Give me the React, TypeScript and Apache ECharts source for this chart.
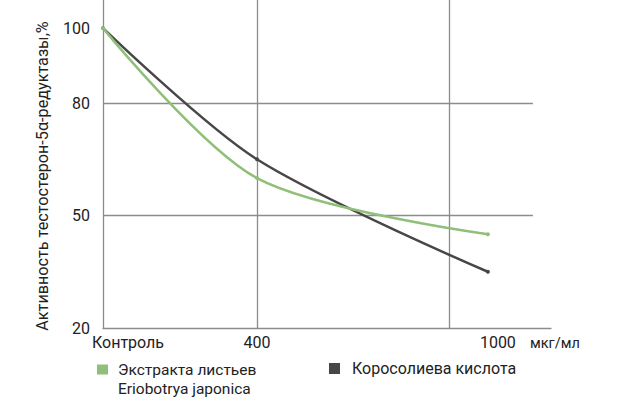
import React, { useEffect, useRef } from "react";
import * as echarts from "echarts";

const xTicks = [0, 400, 1000];
const xTickLabels = ["Контроль", "400", "1000"];
const yTicks = [20, 50, 80, 100];
const seriesNames = ["Экстракта листьев Eriobotrya japonica", "Коросолиева кислота"];
const greenData = [
  [0, 100],
  [400, 60],
  [1000, 45],
];
const blackData = [
  [0, 100],
  [400, 65],
  [1000, 35],
];
const vGrid = [400, 900];
const hGrid = [80, 50];
const hGridEnd = 1117;
const xMax = 1164;
const yMin = 20;
const yMax = 107.5;

const GRID = "#8c8c8c";
const GREEN = "#8fbf78";
const DARK = "#474747";
const TEXT = "#222222";
const FONT = "Roboto, 'Noto Sans', sans-serif";

export default function App() {
  const ref = useRef<HTMLDivElement>(null);
  useEffect(() => {
    if (!ref.current) return;
    const chart = echarts.init(ref.current, null, { renderer: "svg" });
    chart.setOption({
      animation: false,
      textStyle: { fontFamily: FONT },
      grid: { left: 103, right: 84, top: 0, bottom: 77, containLabel: false },
      xAxis: {
        type: "value",
        min: 0,
        max: xMax,
        name: "мкг/мл",
        nameLocation: "end",
        nameGap: -21,
        nameTextStyle: {
          fontSize: 14.5,
          color: TEXT,
          fontFamily: FONT,
          align: "left",
          verticalAlign: "top",
          padding: [8, 0, 0, 0],
        },
        axisLine: { show: true, lineStyle: { color: GRID, width: 1.3 } },
        axisTick: { show: false },
        splitLine: { show: false },
        axisLabel: {
          customValues: xTicks,
          margin: 6,
          fontSize: 16,
          color: TEXT,
          fontFamily: FONT,
          formatter: (v: number) => {
            const i = xTicks.indexOf(v);
            const t = i >= 0 ? xTickLabels[i] : String(v);
            if (i === 0) return "{a|" + t + "}";
            if (i === 2) return "{b|" + t + "}";
            return t;
          },
          rich: {
            a: { fontSize: 16, color: TEXT, fontFamily: FONT, padding: [0, 0, 0, 50] },
            b: { fontSize: 16, color: TEXT, fontFamily: FONT, padding: [0, 0, 0, 20] },
          },
        },
      },
      yAxis: {
        type: "value",
        min: yMin,
        max: yMax,
        name: "Активность тестостерон-5α-редуктазы,%",
        nameLocation: "middle",
        nameRotate: 90,
        nameGap: 53,
        nameTextStyle: {
          fontSize: 16.2,
          color: TEXT,
          fontFamily: FONT,
          padding: [0, 24, 0, 0],
        },
        axisLine: { show: true, lineStyle: { color: GRID, width: 1.3 } },
        axisTick: { show: false },
        splitLine: { show: false },
        axisLabel: {
          customValues: yTicks,
          margin: 13,
          fontSize: 16,
          color: TEXT,
          fontFamily: FONT,
        },
      },
      legend: [
        {
          data: [seriesNames[0]],
          left: 97,
          top: 341,
          padding: 0,
          icon: "rect",
          itemWidth: 11,
          itemHeight: 10,
          formatter: () => "\nЭкстракта листьев\nEriobotrya japonica",
          textStyle: {
            fontSize: 15.5,
            lineHeight: 19,
            color: TEXT,
            fontFamily: FONT,
            padding: [0, 0, 0, 5],
          },
        },
        {
          data: [seriesNames[1]],
          left: 329,
          top: 359,
          padding: 0,
          icon: "rect",
          itemWidth: 11,
          itemHeight: 11,
          textStyle: {
            fontSize: 16,
            lineHeight: 19,
            color: TEXT,
            fontFamily: FONT,
            padding: [0, 0, 0, 7],
          },
        },
      ],
      series: [
        {
          type: "line",
          name: "grid",
          data: [],
          silent: true,
          markLine: {
            silent: true,
            z: 1,
            symbol: "none",
            label: { show: false },
            lineStyle: { color: GRID, width: 1.3, type: "solid" },
            emphasis: { disabled: true },
            data: [
              ...vGrid.map((v) => ({ xAxis: v })),
              ...hGrid.map((v) => [{ coord: [0, v] }, { coord: [hGridEnd, v] }]),
            ],
          },
        },
        {
          type: "line",
          name: seriesNames[1],
          data: blackData,
          smooth: 0.3,
          symbol: "circle",
          symbolSize: 4,
          showSymbol: true,
          itemStyle: { color: DARK },
          lineStyle: { color: DARK, width: 2.5 },
          z: 3,
        },
        {
          type: "line",
          name: seriesNames[0],
          data: greenData,
          smooth: 0.3,
          symbol: "circle",
          symbolSize: 4,
          showSymbol: true,
          itemStyle: { color: GREEN },
          lineStyle: { color: GREEN, width: 2.5 },
          z: 4,
        },
      ],
    });
    return () => chart.dispose();
  }, []);
  return <div ref={ref} style={{ width: 635, height: 405, position: "absolute", left: 0, top: 0 }} />;
}
